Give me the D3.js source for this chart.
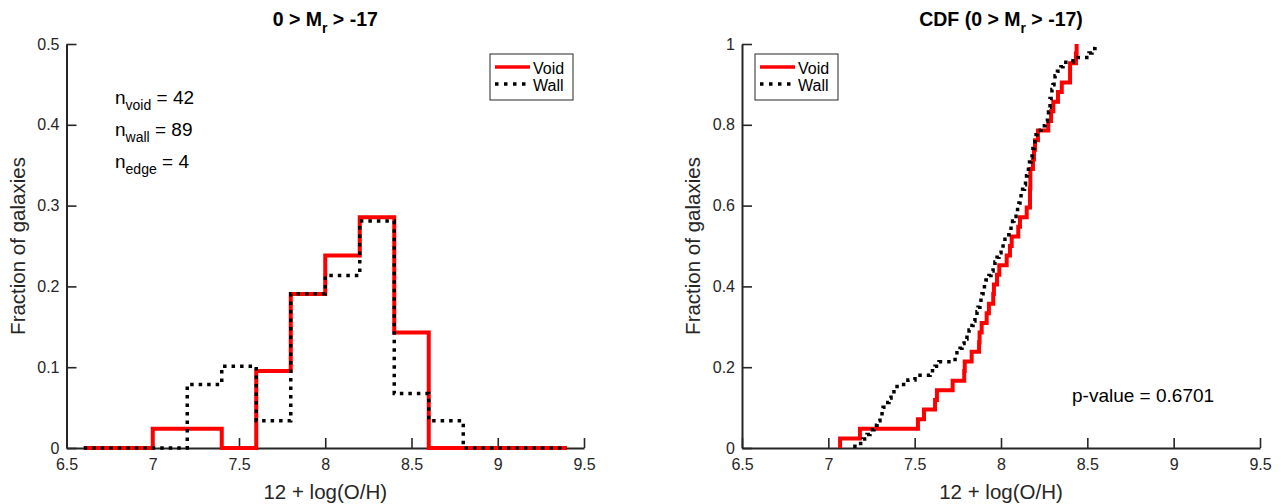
<!DOCTYPE html>
<html><head><meta charset="utf-8">
<script src="https://cdn.jsdelivr.net/npm/d3@7"></script>
<style>
body{margin:0;background:#fff;}
svg{display:block;font-family:"Liberation Sans",Arial,Helvetica,sans-serif;}
</style></head><body>
<svg id="chart" width="1281" height="504"></svg>
<script>
// ---------- data ----------
const xTicks = [6.5, 7, 7.5, 8, 8.5, 9, 9.5];
const histYTicks = [0, 0.1, 0.2, 0.3, 0.4, 0.5];
const cdfYTicks = [0, 0.2, 0.4, 0.6, 0.8, 1];
const binEdges = [6.6, 6.8, 7.0, 7.2, 7.4, 7.6, 7.8, 8.0, 8.2, 8.4, 8.6, 8.8, 9.0, 9.2, 9.4];
const voidHist = [0, 0, 0.0238, 0.0238, 0, 0.0952, 0.1905, 0.2381, 0.2857, 0.1429, 0, 0, 0, 0];
const wallHist = [0, 0, 0, 0.0787, 0.1011, 0.0337, 0.1910, 0.2135, 0.2809, 0.0674, 0.0337, 0, 0, 0];
const voidValues = [7.068, 7.183, 7.519, 7.554, 7.618, 7.629, 7.720, 7.787, 7.790, 7.830,
  7.873, 7.876, 7.888, 7.917, 7.930, 7.955, 7.959, 7.977, 7.990, 8.033,
  8.052, 8.062, 8.100, 8.110, 8.149, 8.168, 8.168, 8.170, 8.170, 8.185,
  8.191, 8.197, 8.214, 8.274, 8.290, 8.303, 8.330, 8.352, 8.400, 8.400,
  8.434, 8.438];
const wallValues = [7.154, 7.201, 7.224, 7.241, 7.264, 7.282, 7.299, 7.311, 7.317, 7.334,
  7.351, 7.363, 7.380, 7.398, 7.461, 7.502, 7.589, 7.618, 7.641, 7.734,
  7.745, 7.763, 7.774, 7.786, 7.803, 7.815, 7.832, 7.838, 7.849, 7.861,
  7.867, 7.878, 7.884, 7.890, 7.896, 7.904, 7.913, 7.930, 7.942, 7.954,
  7.965, 7.977, 7.988, 8.000, 8.012, 8.023, 8.035, 8.046, 8.058, 8.067,
  8.075, 8.087, 8.096, 8.104, 8.110, 8.116, 8.125, 8.136, 8.142, 8.148,
  8.153, 8.159, 8.165, 8.174, 8.180, 8.185, 8.191, 8.197, 8.203, 8.209,
  8.232, 8.255, 8.269, 8.275, 8.281, 8.284, 8.284, 8.290, 8.295, 8.301,
  8.307, 8.313, 8.327, 8.347, 8.359, 8.417, 8.510, 8.527, 8.544];
const seriesNames = ["Void", "Wall"];
const counts = [["void", 42], ["wall", 89], ["edge", 4]];
const pValueText = "p-value = 0.6701";

// ---------- drawing ----------
const svg = d3.select("#chart");
const AX = "#262626";
const RED = "#ff0000";
const yBottom = 448, yTop = 44;

function panel(x0, x1, yMax, yTicks, yFmt) {
  const g = svg.append("g");
  const x = d3.scaleLinear().domain([6.5, 9.5]).range([x0, x1]);
  const y = d3.scaleLinear().domain([0, yMax]).range([yBottom, yTop]);
  const xa = g.append("g").attr("transform", `translate(0,${yBottom})`)
    .call(d3.axisBottom(x).tickValues(xTicks).tickFormat(d => String(d))
      .tickSizeInner(-10).tickSizeOuter(0).tickPadding(11));
  const ya = g.append("g").attr("transform", `translate(${x0},0)`)
    .call(d3.axisLeft(y).tickValues(yTicks).tickFormat(yFmt)
      .tickSizeInner(-10).tickSizeOuter(0).tickPadding(7));
  [xa, ya].forEach(a => {
    a.select(".domain").attr("stroke", AX).attr("stroke-width", 2);
    a.selectAll(".tick line").attr("stroke", AX).attr("stroke-width", 1.6);
    a.selectAll(".tick text").attr("fill", AX).style("font-size", "16px")
      .style("font-family", "'Liberation Sans',Arial,sans-serif");
  });
  // axis labels
  g.append("text").attr("x", (x0 + x1) / 2).attr("y", 499).attr("text-anchor", "middle")
    .attr("fill", AX).style("font-size", "20.5px").text("12 + log(O/H)");
  g.append("text").attr("transform", `translate(${x0 - 42},${(yBottom + yTop) / 2}) rotate(-90)`)
    .attr("text-anchor", "middle").attr("fill", AX).style("font-size", "20.5px")
    .text("Fraction of galaxies");
  return { g, x, y };
}

function title(g, cx, prefix, suffix) {
  const t = g.append("text").attr("x", cx).attr("y", 26).attr("text-anchor", "middle")
    .attr("fill", "#000").style("font-size", "19.5px").style("font-weight", "bold");
  t.append("tspan").text(prefix + "0 > M");
  t.append("tspan").attr("dy", 7).style("font-size", "14px").text("r");
  t.append("tspan").attr("dy", -7).text(" > -17" + suffix);
}

function legend(g, bx, by) {
  g.append("rect").attr("x", bx).attr("y", by).attr("width", 83).attr("height", 46)
    .attr("fill", "#fff").attr("stroke", AX).attr("stroke-width", 1);
  const rows = [by + 13, by + 30];
  g.append("line").attr("x1", bx + 5).attr("x2", bx + 40).attr("y1", rows[0]).attr("y2", rows[0])
    .attr("stroke", RED).attr("stroke-width", 3.5);
  g.append("line").attr("x1", bx + 5).attr("x2", bx + 40).attr("y1", rows[1]).attr("y2", rows[1])
    .attr("stroke", "#000").attr("stroke-width", 3.5).attr("stroke-dasharray", "3.5,5.5");
  seriesNames.forEach((n, i) => {
    g.append("text").attr("x", bx + 43).attr("y", rows[i] + 6.5).attr("fill", "#000")
      .style("font-size", "16px").text(n);
  });
}

// ----- left: histogram -----
const L = panel(66.5, 584, 0.5, histYTicks, d3.format("~g"));
title(L.g, (66.5 + 584) / 2, "", "");
function histPts(h) {
  const pts = h.map((v, i) => [binEdges[i], v]);
  pts.push([binEdges[binEdges.length - 1], h[h.length - 1]]);
  return pts;
}
const stepLine = (sx, sy) => d3.line().x(d => sx(d[0])).y(d => sy(d[1])).curve(d3.curveStepAfter);
L.g.append("path").attr("d", stepLine(L.x, L.y)(histPts(voidHist)))
  .attr("fill", "none").attr("stroke", RED).attr("stroke-width", 4);
L.g.append("path").attr("d", stepLine(L.x, L.y)(histPts(wallHist)))
  .attr("fill", "none").attr("stroke", "#000").attr("stroke-width", 3.5)
  .attr("stroke-dasharray", "3.5,5");
legend(L.g, 490, 54);
const ann = L.g.append("g");
counts.forEach(([k, n], i) => {
  const t = ann.append("text").attr("x", 115).attr("y", 104 + i * 32).attr("fill", "#000")
    .style("font-size", "19px");
  t.append("tspan").text("n");
  t.append("tspan").attr("dy", 6).style("font-size", "14px").text(k);
  t.append("tspan").attr("dy", -6).text(" = " + n);
});

// ----- right: CDF -----
const R = panel(742, 1260, 1, cdfYTicks, d3.format("~g"));
title(R.g, (742 + 1260) / 2, "CDF (", ")");
function cdfPts(vals) {
  const n = vals.length;
  const pts = [[vals[0], 0]];
  vals.forEach((v, i) => pts.push([v, (i + 1) / n]));
  return pts;
}
R.g.append("path").attr("d", stepLine(R.x, R.y)(cdfPts(voidValues)))
  .attr("fill", "none").attr("stroke", RED).attr("stroke-width", 4);
R.g.append("path").attr("d", stepLine(R.x, R.y)(cdfPts(wallValues)))
  .attr("fill", "none").attr("stroke", "#000").attr("stroke-width", 3.5)
  .attr("stroke-dasharray", "3.5,5");
legend(R.g, 755, 54);
R.g.append("text").attr("x", 1072).attr("y", 402).attr("fill", "#000")
  .style("font-size", "19px").text(pValueText);
</script>
</body></html>
